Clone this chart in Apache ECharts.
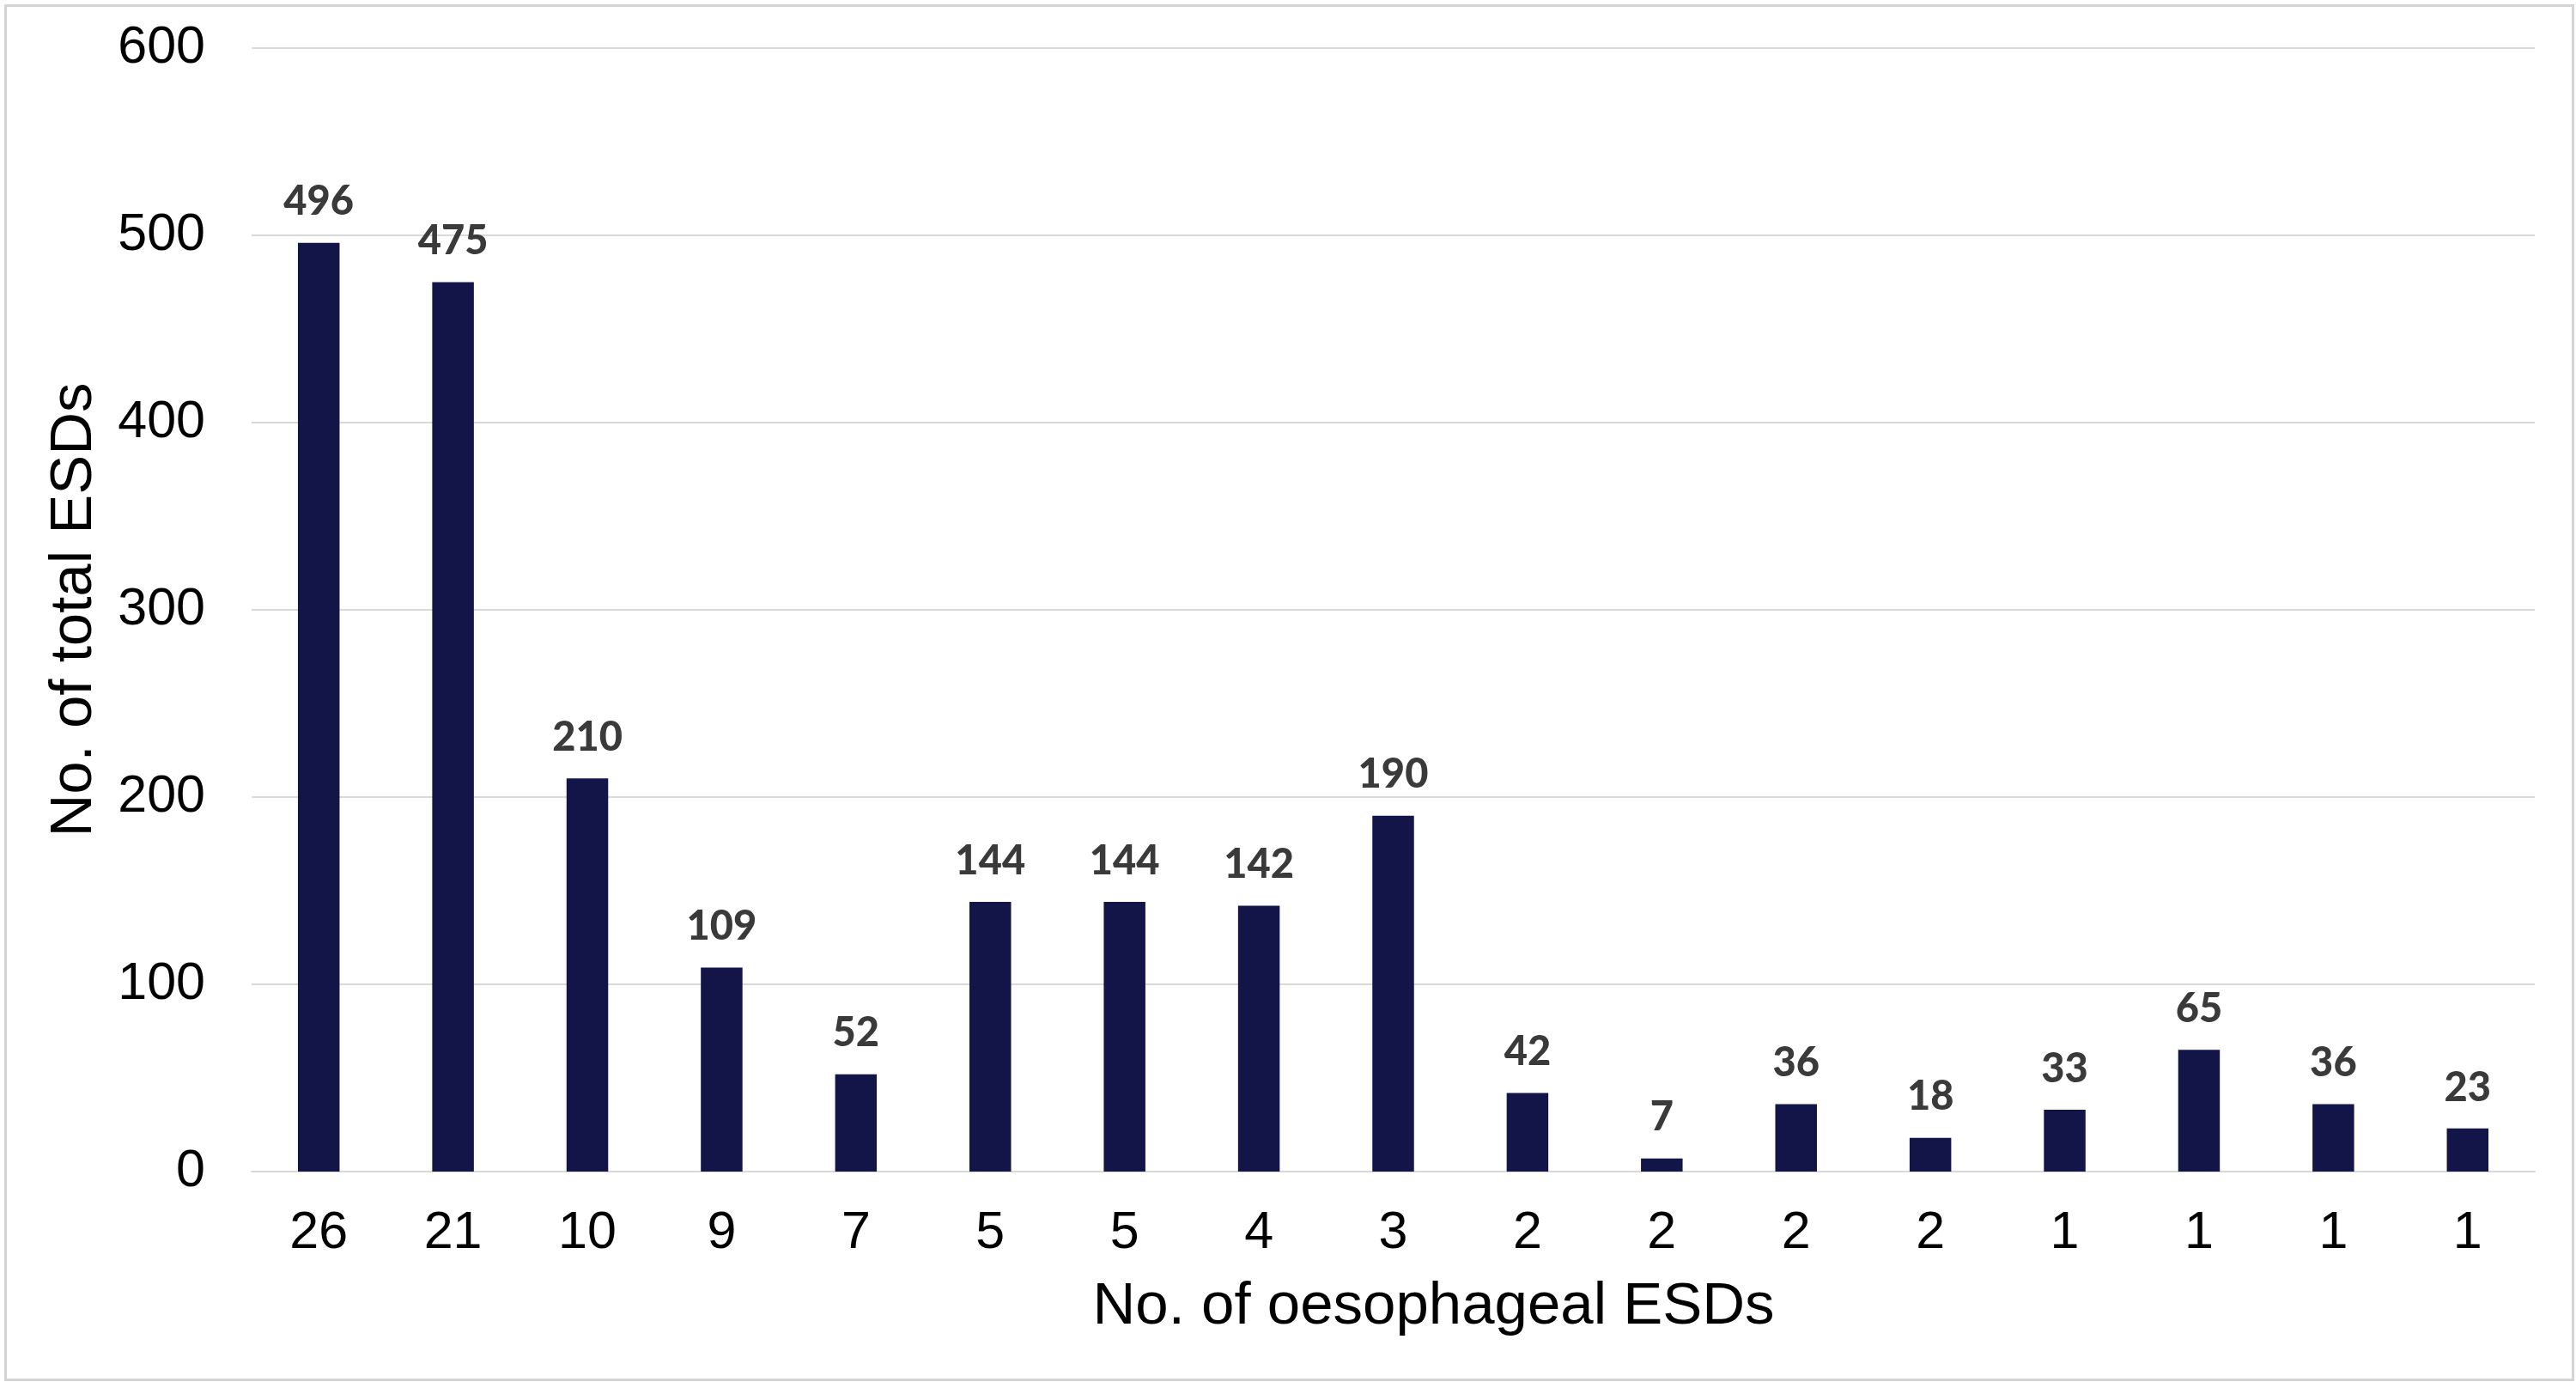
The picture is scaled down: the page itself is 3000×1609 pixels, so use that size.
<!DOCTYPE html>
<html>
<head>
<meta charset="utf-8">
<script src="https://cdn.jsdelivr.net/npm/echarts@6/dist/echarts.min.js"></script>
<style>
html,body{margin:0;padding:0;background:#fff;}
#chart{width:3000px;height:1609px;}
</style>
</head>
<body>
<div id="chart"></div>
<script>
const categories = ['26','21','10','9','7','5','5','4','3','2','2','2','2','1','1','1','1'];
const totalESDs = [496, 475, 210, 109, 52, 144, 144, 142, 190, 42, 7, 36, 18, 33, 65, 36, 23];
const yTicks = [0, 100, 200, 300, 400, 500, 600];
const xTitle = 'No. of oesophageal ESDs';
const yTitle = 'No. of total ESDs';

const chart = echarts.init(document.getElementById('chart'), null, {renderer: 'canvas'});
chart.setOption({
  backgroundColor: '#ffffff',
  animation: false,
  graphic: [{
    type: 'rect',
    left: 4, top: 4,
    shape: {width: 2990, height: 1600},
    style: {fill: 'none', stroke: '#d4d4d4', lineWidth: 3},
    silent: true
  }],
  grid: {left: 293, right: 48, top: 56, bottom: 245, containLabel: false},
  xAxis: {
    type: 'category',
    data: categories,
    name: xTitle,
    nameLocation: 'middle',
    nameGap: 123,
    nameTextStyle: {fontFamily: 'Liberation Sans', fontSize: 69, color: '#000', padding: [0, 0, 0, 94]},
    axisLine: {show: true, lineStyle: {color: '#d9d9d9', width: 2}},
    axisTick: {show: false},
    axisLabel: {fontFamily: 'Liberation Sans', fontSize: 61, color: '#000', margin: 42, interval: 0}
  },
  yAxis: {
    type: 'value',
    min: yTicks[0],
    max: yTicks[yTicks.length - 1],
    interval: yTicks[1] - yTicks[0],
    name: yTitle,
    nameLocation: 'middle',
    nameGap: 172,
    nameRotate: 90,
    nameTextStyle: {fontFamily: 'Liberation Sans', fontSize: 69, color: '#000'},
    axisLine: {show: false},
    axisTick: {show: false},
    splitLine: {lineStyle: {color: '#d9d9d9', width: 2}},
    axisLabel: {fontFamily: 'Liberation Sans', fontSize: 61, color: '#000', margin: 54}
  },
  series: [{
    type: 'bar',
    data: totalESDs,
    barWidth: '31%',
    itemStyle: {color: '#131548'},
    label: {
      show: true,
      position: 'top',
      distance: 24,
      fontFamily: 'Lato',
      fontWeight: 900,
      fontSize: 47,
      color: '#3a3a3a'
    }
  }]
});
</script>
</body>
</html>
